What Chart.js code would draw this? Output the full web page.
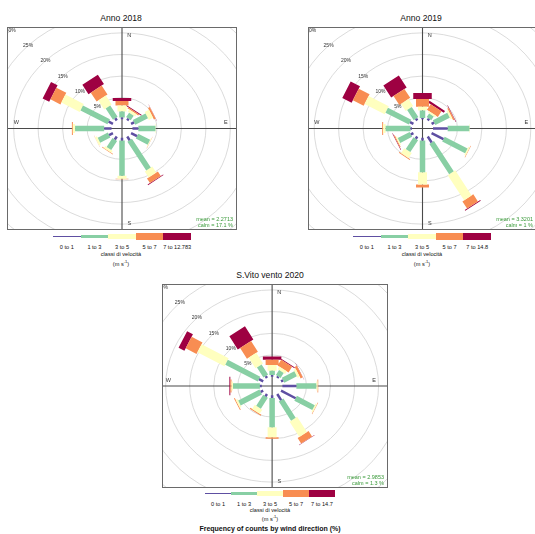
<!DOCTYPE html>
<html><head><meta charset="utf-8">
<script src="https://cdn.jsdelivr.net/npm/chart.js@4"></script>
<style>
html,body{margin:0;padding:0;background:#fff;}
body{width:535px;height:534px;position:relative;overflow:hidden;font-family:"Liberation Sans",Arial,sans-serif;color:#111;}
.title{position:absolute;font-size:8.6px;transform:translate(-50%,-50%);white-space:nowrap;}
canvas{position:absolute;}
.key{position:absolute;display:flex;align-items:center;height:10px;transform:translateY(-50%);}
.key div{height:4px;}
.klab{position:absolute;font-size:5.6px;transform:translate(-50%,-50%);white-space:nowrap;}
.sub{position:absolute;font-size:5.6px;transform:translate(-50%,-50%);white-space:nowrap;}
.foot{position:absolute;font-size:7px;font-weight:bold;transform:translate(-50%,-50%);white-space:nowrap;}
</style></head>
<body>
<script>
// ---------- data ----------
const directions = [0, 30, 60, 90, 120, 150, 180, 210, 240, 270, 300, 330];
const classColours = ["#5E4FA2", "#88CFA4", "#FFFFBF", "#F88D52", "#9E0142"];
const ringPercents = [5, 10, 15, 20, 25, 30];

const titles = ["Anno 2018", "Anno 2019", "S.Vito vento 2020"];

const classes2018 = ["0 to 1", "1 to 3", "3 to 5", "5 to 7", "7 to 12.783"];
const f2018_0_1  = [0.4, 0.5, 0.7, 1.2, 1.4, 1.0, 0.65, 0.8, 0.9, 1.5, 1.0, 0.6];
const f2018_1_3  = [1.4, 1.2, 3.0, 3.5, 2.8, 7.7, 8.15, 2.4, 2.4, 5.95, 6.36, 3.0];
const f2018_3_5  = [1.4, 0.6, 1.0, 0.1, 0.15, 1.6, 0.7, 0.5, 0.45, 0.45, 4.34, 2.4];
const f2018_5_7  = [1.05, 0.3, 0.4, 0, 0.05, 1.2, 0.1, 0.15, 0.05, 0.2, 2.35, 2.4];
const f2018_7_up = [0.7, 0.2, 0.05, 0, 0, 0.15, 0, 0, 0, 0, 1.55, 2.5];
const stats2018 = ["mean = 2.2713", "calm = 17.1 %"];

const classes2019 = ["0 to 1", "1 to 3", "3 to 5", "5 to 7", "7 to 14.8"];
const f2019_0_1  = [0.3, 0.5, 0.6, 3.0, 2.8, 1.6, 0.65, 0.6, 0.6, 0.3, 0.8, 0.5];
const f2019_1_3  = [1.7, 1.0, 3.4, 4.45, 5.4, 8.1, 7.35, 3.17, 2.8, 5.1, 5.5, 2.7];
const f2019_3_5  = [0.9, 0.4, 0.4, 0.1, 0.3, 6.7, 2.8, 1.33, 0.3, 0.5, 4.75, 1.9];
const f2019_5_7  = [1.8, 1.5, 0.3, 0, 0.1, 1.9, 0.7, 0.2, 0.2, 0.2, 2.55, 2.4];
const f2019_7_up = [1.4, 0.5, 0.1, 0, 0, 0.2, 0, 0, 0.1, 0, 2.2, 3.2];
const stats2019 = ["mean = 3.3201", "calm = 1 %"];

const classes2020 = ["0 to 1", "1 to 3", "3 to 5", "5 to 7", "7 to 14.7"];
const f2020_0_1  = [0.4, 0.4, 0.5, 2.9, 3.5, 1.6, 0.6, 0.6, 0.6, 0.4, 1.0, 0.5];
const f2020_1_3  = [0.95, 1.3, 3.0, 4.15, 4.3, 5.1, 6.75, 2.9, 5.1, 5.6, 7.8, 2.7];
const f2020_3_5  = [1.35, 0.7, 0.5, 0.25, 0.3, 4.05, 2.3, 1.1, 0.4, 0.3, 6.5, 2.85];
const f2020_5_7  = [1.2, 1.5, 0.5, 0.15, 0.1, 1.45, 0.35, 0.25, 0.2, 0.25, 2.6, 2.85];
const f2020_7_up = [0.75, 0.2, 0.05, 0, 0, 0.1, 0, 0, 0, 0.2, 1.4, 3.5];
const stats2020 = ["mean = 2.9853", "calm = 1.3 %"];

const keyTitle = "classi di velocità";
const footer = "Frequency of counts by wind direction (%)";

// ---------- layout / style ----------
const paddleWidths = [2.5, 5.5, 9, 13, 18.5];
const keyHeights = [1, 2.5, 5, 6.5, 7.5];
const OFFSET = 2.14;

const panels = [
  {title: titles[0], cls: classes2018, series: [f2018_0_1, f2018_1_3, f2018_3_5, f2018_5_7, f2018_7_up], stats: stats2018,
   box: {l: 7, t: 27, w: 230, h: 203}, xr: [-23.5, 23.5], yr: [-23.5, 23.5], titleXY: [121, 18],
   key: {l: 53, w: 138, y: 236.5}, sub: [121, 254], unit: [121, 262.5]},
  {title: titles[1], cls: classes2019, series: [f2019_0_1, f2019_1_3, f2019_3_5, f2019_5_7, f2019_7_up], stats: stats2019,
   box: {l: 308, t: 27, w: 229, h: 203}, xr: [-23.4, 23.4], yr: [-23.5, 23.5], titleXY: [421, 18],
   key: {l: 353, w: 138, y: 236.5}, sub: [422, 254], unit: [422, 262.5]},
  {title: titles[2], cls: classes2020, series: [f2020_0_1, f2020_1_3, f2020_3_5, f2020_5_7, f2020_7_up], stats: stats2020,
   box: {l: 162, t: 284, w: 226, h: 204}, xr: [-22.9, 24.1], yr: [-23.5, 23.5], titleXY: [270, 275],
   key: {l: 205, w: 130, y: 493.5}, sub: [270, 509.5], unit: [270, 518]},
];

function el(tag, cls, html, css) {
  const e = document.createElement(tag);
  if (cls) e.className = cls;
  if (html != null) e.innerHTML = html;
  Object.assign(e.style, css || {});
  document.body.appendChild(e);
  return e;
}

const roseDecor = {
  id: 'roseDecor',
  beforeDatasetsDraw(chart, args, o) {
    const {ctx, chartArea: a, scales: {x, y}} = chart;
    ctx.save();
    ctx.beginPath(); ctx.rect(a.left, a.top, a.right - a.left, a.bottom - a.top); ctx.clip();
    const cx = x.getPixelForValue(0), cy = y.getPixelForValue(0);
    const kx = x.getPixelForValue(1) - cx, ky = cy - y.getPixelForValue(1);
    ctx.strokeStyle = '#d2d2d2'; ctx.lineWidth = 0.8;
    o.rings.forEach(r => {
      ctx.beginPath();
      ctx.ellipse(cx, cy, (r + o.offset) * kx, (r + o.offset) * ky, 0, 0, Math.PI * 2);
      ctx.stroke();
    });
    ctx.strokeStyle = '#4a4a4a'; ctx.lineWidth = 1.1;
    ctx.beginPath();
    ctx.moveTo(a.left, cy); ctx.lineTo(a.right, cy);
    ctx.moveTo(cx, a.top); ctx.lineTo(cx, a.bottom);
    ctx.stroke();
    ctx.restore();
  },
  afterDatasetsDraw(chart, args, o) {
    const {ctx, chartArea: a, scales: {x, y}} = chart;
    ctx.save();
    ctx.beginPath(); ctx.rect(a.left, a.top, a.right - a.left, a.bottom - a.top); ctx.clip();
    ctx.fillStyle = '#333';
    ctx.textAlign = 'center'; ctx.textBaseline = 'middle';
    ctx.font = '5px "Liberation Sans", Arial, sans-serif';
    o.rings.forEach(r => {
      const rr = (r + o.offset) * Math.SQRT1_2;
      ctx.fillText(r + '%', x.getPixelForValue(-rr), y.getPixelForValue(rr));
    });
    ctx.font = '5.5px "Liberation Sans", Arial, sans-serif';
    ctx.fillText('N', x.getPixelForValue(1.5), y.getPixelForValue(21.5));
    ctx.fillText('S', x.getPixelForValue(1.5), y.getPixelForValue(-22));
    ctx.fillText('W', x.getPixelForValue(-21.6), y.getPixelForValue(1.3));
    ctx.fillText('E', x.getPixelForValue(21.2), y.getPixelForValue(1.3));
    ctx.fillStyle = '#3a9a3a';
    ctx.textAlign = 'right';
    ctx.fillText(o.stats[0], a.right - 4, a.bottom - 11);
    ctx.fillText(o.stats[1], a.right - 4, a.bottom - 5);
    ctx.restore();
    ctx.save();
    ctx.strokeStyle = '#6a6a6a'; ctx.lineWidth = 1;
    ctx.strokeRect(a.left + 0.5, a.top + 0.5, a.right - a.left - 1, a.bottom - a.top - 1);
    ctx.restore();
  }
};

function buildDatasets(p) {
  return p.series.map((vals, ci) => {
    const pts = [];
    directions.forEach((d, di) => {
      let lo = OFFSET;
      for (let k = 0; k < ci; k++) lo += p.series[k][di];
      const hi = lo + vals[di];
      if (vals[di] <= 0) return;
      const t = d * Math.PI / 180;
      pts.push({x: lo * Math.sin(t), y: lo * Math.cos(t)});
      pts.push({x: hi * Math.sin(t), y: hi * Math.cos(t)});
      pts.push({x: hi * Math.sin(t), y: null});
    });
    return {
      label: p.cls[ci], data: pts, showLine: true, spanGaps: false,
      borderColor: classColours[ci], backgroundColor: classColours[ci],
      borderWidth: paddleWidths[ci], borderCapStyle: 'butt', borderJoinStyle: 'bevel',
      borderDash: [10000, 0.0001],
      pointRadius: 0, pointHoverRadius: 0
    };
  });
}

panels.forEach(p => {
  el('div', 'title', p.title, {left: p.titleXY[0] + 'px', top: p.titleXY[1] + 'px'});
  const c = document.createElement('canvas');
  c.width = p.box.w; c.height = p.box.h;
  c.style.left = p.box.l + 'px'; c.style.top = p.box.t + 'px';
  c.style.width = p.box.w + 'px'; c.style.height = p.box.h + 'px';
  document.body.appendChild(c);
  new Chart(c, {
    type: 'scatter',
    data: {datasets: buildDatasets(p)},
    options: {
      responsive: false, animation: false, devicePixelRatio: 1,
      layout: {padding: 0},
      plugins: {legend: {display: false}, tooltip: {enabled: false},
        roseDecor: {rings: ringPercents, offset: OFFSET, stats: p.stats}},
      scales: {
        x: {type: 'linear', min: p.xr[0], max: p.xr[1], display: false},
        y: {type: 'linear', min: p.yr[0], max: p.yr[1], display: false}
      }
    },
    plugins: [roseDecor]
  });
  // colour key
  const key = el('div', 'key', null, {left: p.key.l + 'px', top: p.key.y + 'px', width: p.key.w + 'px'});
  const segW = p.key.w / p.cls.length;
  p.cls.forEach((lab, i) => {
    const s = document.createElement('div');
    s.style.width = segW + 'px'; s.style.height = keyHeights[i] + 'px'; s.style.background = classColours[i];
    key.appendChild(s);
    el('div', 'klab', lab, {left: (p.key.l + segW * (i + 0.5)) + 'px', top: (p.key.y + 10) + 'px'});
  });
  el('div', 'sub', keyTitle, {left: p.sub[0] + 'px', top: p.sub[1] + 'px'});
  el('div', 'sub', '(m s<sup style="font-size:4px">-1</sup>)', {left: p.unit[0] + 'px', top: p.unit[1] + 'px'});
});
el('div', 'foot', footer, {left: '270px', top: '528px'});
</script>
</body></html>
